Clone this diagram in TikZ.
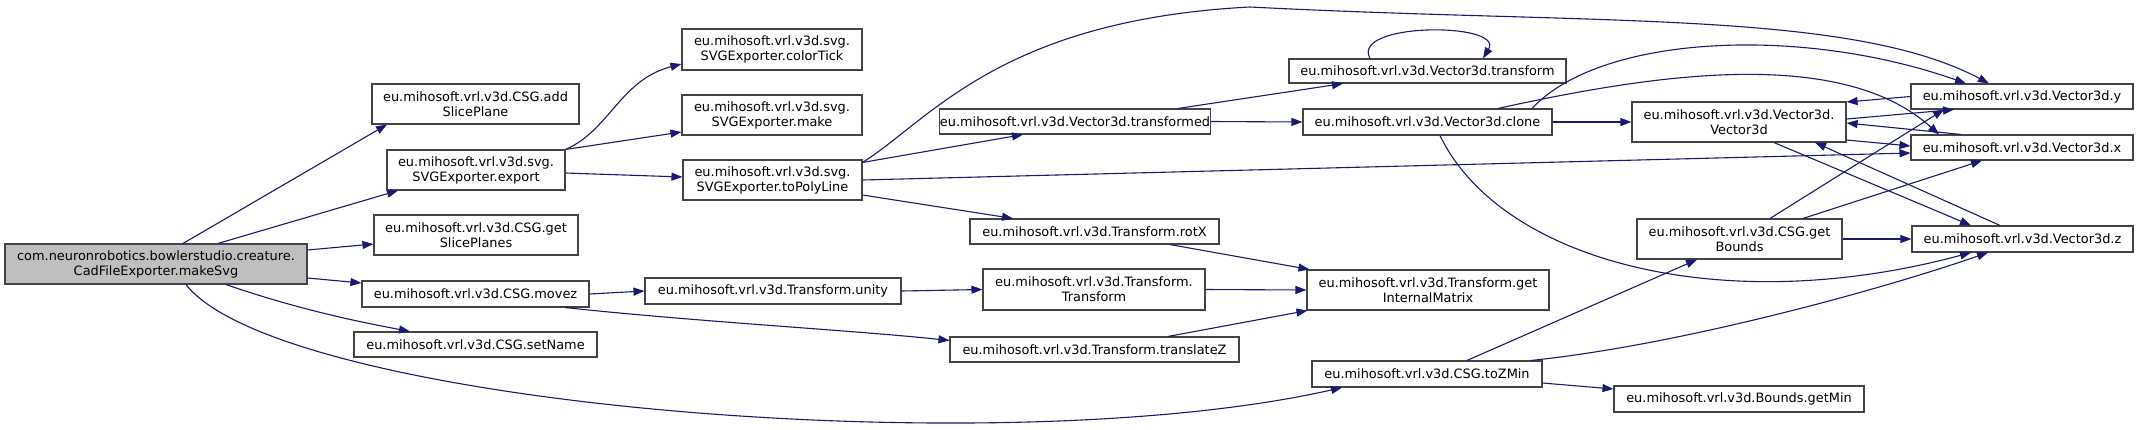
\documentclass[tikz,border=0pt]{standalone}
\usepackage{fontspec}
\setmainfont{DejaVu Sans}
\usetikzlibrary{arrows.meta}
\definecolor{edgec}{HTML}{191970}
\definecolor{boxc}{HTML}{444444}
\definecolor{rootfill}{HTML}{BFBFBF}
\tikzset{
  fn/.style={draw=boxc, line width=1.1pt, fill=white, inner sep=0pt, align=center,
    font=\fontsize{12.9}{15}\selectfont, text=black},
  rootbox/.style={fn, fill=rootfill},
  call/.style={draw=edgec, line width=1.1pt, -{Triangle[length=11pt,width=8pt]}, fill=none},
}
\newcommand{\fnode}[6]{\node[#1, minimum width=#4pt, minimum height=#5pt] (#2) at (#3) {#6};}
\begin{document}
\begin{tikzpicture}[x=1pt,y=-1pt]
\useasboundingbox (0,0) rectangle (2139,429);
% nodes
\fnode{rootbox}{root}{156,264}{302}{40}{com.neuronrobotics.bowlerstudio.creature.\\CadFileExporter.makeSvg}
\fnode{fn}{aSP}{475.5,104}{207}{40}{eu.mihosoft.vrl.v3d.CSG.add\\SlicePlane}
\fnode{fn}{exp}{476,170}{178}{40}{eu.mihosoft.vrl.v3d.svg.\\SVGExporter.export}
\fnode{fn}{gSP}{476,235}{204}{40}{eu.mihosoft.vrl.v3d.CSG.get\\SlicePlanes}
\fnode{fn}{movez}{475.5,294}{227}{26}{eu.mihosoft.vrl.v3d.CSG.movez}
\fnode{fn}{setName}{475.5,344.5}{243}{25}{eu.mihosoft.vrl.v3d.CSG.setName}
\fnode{fn}{colorTick}{772,49.5}{180}{41}{eu.mihosoft.vrl.v3d.svg.\\SVGExporter.colorTick}
\fnode{fn}{make}{772,115}{180}{40}{eu.mihosoft.vrl.v3d.svg.\\SVGExporter.make}
\fnode{fn}{toPL}{772.5,180}{179}{40}{eu.mihosoft.vrl.v3d.svg.\\SVGExporter.toPolyLine}
\fnode{fn}{unity}{773,291}{256}{26}{eu.mihosoft.vrl.v3d.Transform.unity}
\fnode{fn}{transformed}{1075,121.5}{256}{25}{eu.mihosoft.vrl.v3d.Vector3d.transformed}
\fnode{fn}{rotX}{1094.5,231.5}{249}{25}{eu.mihosoft.vrl.v3d.Transform.rotX}
\fnode{fn}{TT}{1094,289.5}{222}{41}{eu.mihosoft.vrl.v3d.Transform.\\Transform}
\fnode{fn}{trZ}{1094.5,349.5}{289}{25}{eu.mihosoft.vrl.v3d.Transform.translateZ}
\fnode{fn}{vtr}{1427.5,71}{277}{24}{eu.mihosoft.vrl.v3d.Vector3d.transform}
\fnode{fn}{clone}{1427.5,122}{249}{26}{eu.mihosoft.vrl.v3d.Vector3d.clone}
\fnode{fn}{gIM}{1428,290}{242}{40}{eu.mihosoft.vrl.v3d.Transform.get\\InternalMatrix}
\fnode{fn}{toZMin}{1427,374}{230}{26}{eu.mihosoft.vrl.v3d.CSG.toZMin}
\fnode{fn}{V3d}{1739,122}{214}{40}{eu.mihosoft.vrl.v3d.Vector3d.\\Vector3d}
\fnode{fn}{gB}{1739.5,239}{205}{40}{eu.mihosoft.vrl.v3d.CSG.get\\Bounds}
\fnode{fn}{getMin}{1739,399}{250}{26}{eu.mihosoft.vrl.v3d.Bounds.getMin}
\fnode{fn}{vy}{2022,96.5}{222}{25}{eu.mihosoft.vrl.v3d.Vector3d.y}
\fnode{fn}{vx}{2022,147.5}{222}{25}{eu.mihosoft.vrl.v3d.Vector3d.x}
\fnode{fn}{vz}{2022.5,239}{221}{26}{eu.mihosoft.vrl.v3d.Vector3d.z}
% edges from root
\draw[call] ([xshift=27pt]root.north) -- ([xshift=-88.5pt]aSP.south);
\draw[call] ([xshift=62pt]root.north) -- ([xshift=-78pt]exp.south);
\draw[call] ([yshift=14pt]root.east) -- ([yshift=-9pt]gSP.west);
\draw[call] ([yshift=-14pt]root.east) -- ([yshift=11pt]movez.west);
\draw[call] ([xshift=70pt]root.south) .. controls (300,310) and (360,322) .. ([xshift=-65.5pt]setName.north);
\draw[call] ([xshift=30pt]root.south) .. controls (280,405) and (1000,465) .. ([xshift=-85pt]toZMin.south);
% export
\draw[call] (exp.north east) .. controls (610,130) and (620,80) .. ([yshift=-14.5pt]colorTick.west);
\draw[call] (exp.north east) -- ([yshift=-17pt]make.west);
\draw[call] ([yshift=-3pt]exp.east) -- ([yshift=3pt]toPL.west);
% toPolyLine
\draw[call] ([yshift=-3pt]toPL.north east) -- ([xshift=-52pt]transformed.south);
\draw[call] ([yshift=-3pt]toPL.north east) .. controls (930,120) and (1000,20) .. (1250,7)
   .. controls (1600,25) and (1850,10) .. ([xshift=-33pt]vy.north);
\draw[call] (toPL.east) -- ([yshift=-5.5pt]vx.west);
\draw[call] ([yshift=-15pt]toPL.east) -- ([xshift=-81.5pt]rotX.north);
% transformed
\draw[call] ([xshift=103pt]transformed.north) -- ([xshift=-84.5pt]vtr.south);
\draw[call] (transformed.east) -- (clone.west);
\draw[call] ([xshift=-57.5pt]vtr.north) .. controls (1350,22) and (1505,22) .. ([xshift=55.5pt]vtr.north);
% clone
\draw[call] (clone.east) -- (V3d.west);
\draw[call] ([xshift=104.5pt]clone.north) .. controls (1600,35) and (1800,25) .. ([xshift=-56pt]vy.north);
\draw[call] ([xshift=70.5pt]clone.north) .. controls (1650,75) and (1840,45) .. ([xshift=-83pt]vx.north);
\draw[call] ([xshift=12.5pt]clone.south) .. controls (1500,260) and (1720,320) .. ([xshift=-51.5pt]vz.south);
% Vector3d cluster
\draw[call] (vy.west) -- ([yshift=20pt]V3d.east);
\draw[call] ([yshift=3pt]V3d.east) -- ([xshift=-68pt]vy.south);
\draw[call] ([xshift=-61pt]vx.north) -- ([yshift=-1pt]V3d.east);
\draw[call] ([yshift=-18pt]V3d.east) -- ([yshift=1.5pt]vx.west);
\draw[call] ([xshift=35pt]V3d.south) -- ([xshift=-51.5pt]vz.north);
\draw[call] ([xshift=-22.5pt]vz.north) -- ([xshift=76pt]V3d.south);
% getBounds
\draw[call] ([xshift=30.5pt]gB.north) -- ([xshift=-78pt]vy.south);
\draw[call] ([xshift=63.5pt]gB.north) -- ([xshift=-40pt]vx.south);
\draw[call] (gB.east) -- (vz.west);
% toZMin
\draw[call] ([xshift=40pt]toZMin.north) -- ([xshift=-42.5pt]gB.south);
\draw[call] ([xshift=104pt]toZMin.north) .. controls (1680,345) and (1880,290) .. ([xshift=-34.5pt]vz.south);
\draw[call] ([yshift=-9pt]toZMin.east) -- ([yshift=10pt]getMin.west);
% movez & transforms
\draw[call] (movez.east) -- ([yshift=0pt]unity.west);
\draw[call] ([xshift=89.5pt]movez.south) .. controls (700,322) and (850,330) .. ([yshift=-4pt]trZ.north west);
\draw[call] (unity.east) -- (TT.west);
\draw[call] (TT.east) -- (gIM.west);
\draw[call] ([xshift=75.5pt]rotX.south) -- ([xshift=3pt]gIM.north west);
\draw[call] ([xshift=73.5pt]trZ.north) -- ([xshift=1pt]gIM.south west);
\end{tikzpicture}
\end{document}
